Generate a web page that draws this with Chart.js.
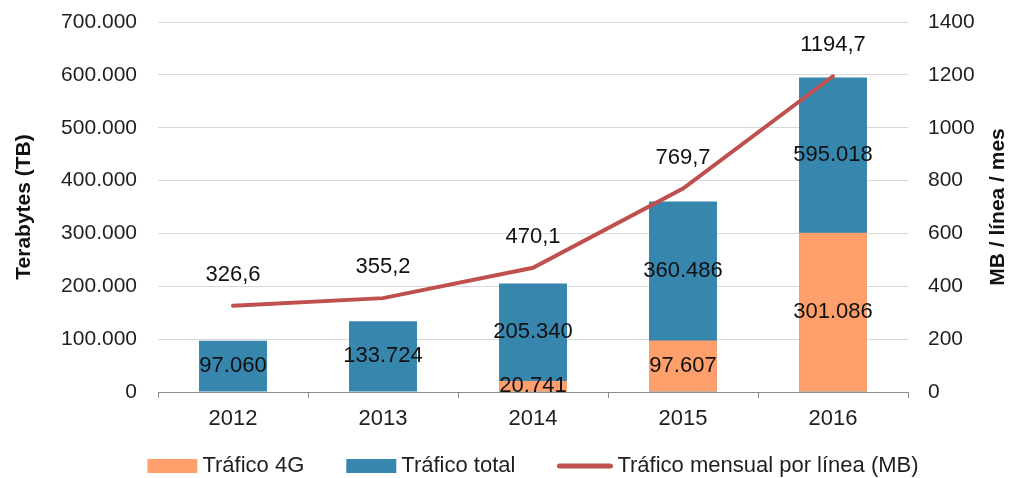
<!DOCTYPE html>
<html lang="es">

<head>
    <meta charset="UTF-8">
    <meta name="viewport" content="width=device-width, initial-scale=1.0">
    <script src="https://cdn.jsdelivr.net/npm/chart.js"></script>
    <title>Tráfico de datos móviles</title>
    <style>
        body { margin: 0; background: #fff; }
        #wrap { width: 1013px; height: 478px; position: relative; }
    </style>
</head>

<body>
    <div id="wrap">
        <canvas id="myChart"></canvas>
    </div>
</body>

<script>
    // datos
    const anios = ['2012', '2013', '2014', '2015', '2016'];
    const trafico4G = [null, null, 20741, 97607, 301086];
    const traficoTotal = [97060, 133724, 205340, 360486, 595018];
    const traficoLinea = [326.6, 355.2, 470.1, 769.7, 1194.7];

    const naranja = '#FF9F6B';
    const azul = '#3786AE';
    const rojo = '#C0504D';
    const texto = '#1f1f1f';
    const fuente = "'Liberation Sans', Arial, sans-serif";

    function miles(v) {
        return String(v).replace(/\B(?=(\d{3})+(?!\d))/g, '.');
    }
    function decimal(v) {
        return v.toFixed(1).replace('.', ',');
    }

    // etiquetas de datos sobre barras y linea
    const etiquetas = {
        id: 'etiquetas',
        afterDatasetsDraw(chart) {
            const ctx = chart.ctx;
            const m4g = chart.getDatasetMeta(0);
            const mTot = chart.getDatasetMeta(1);
            const mLin = chart.getDatasetMeta(2);
            ctx.save();
            ctx.font = '22px ' + fuente;
            ctx.fillStyle = '#111';
            ctx.textAlign = 'center';
            ctx.textBaseline = 'middle';
            mTot.data.forEach((bar, i) => {
                let abajo = bar.base;
                if (trafico4G[i] != null) {
                    abajo = m4g.data[i].y;
                    const b4 = m4g.data[i];
                    ctx.fillText(miles(trafico4G[i]), b4.x, (b4.y + b4.base) / 2);
                }
                ctx.fillText(miles(traficoTotal[i]), bar.x, (bar.y + abajo) / 2);
            });
            mLin.data.forEach((p, i) => {
                ctx.fillText(decimal(traficoLinea[i]), p.x, p.y - 31);
            });
            ctx.restore();
        }
    };

    // titulo del eje derecho (se lee de abajo hacia arriba, como el izquierdo)
    const tituloDerecho = {
        id: 'tituloDerecho',
        afterDraw(chart) {
            const ctx = chart.ctx;
            const s = chart.scales.y2;
            ctx.save();
            ctx.translate(998, (s.top + s.bottom) / 2);
            ctx.rotate(-Math.PI / 2);
            ctx.font = 'bold 21px ' + fuente;
            ctx.fillStyle = '#111';
            ctx.textAlign = 'center';
            ctx.textBaseline = 'middle';
            ctx.fillText('MB / línea / mes', 0, 0);
            ctx.restore();
        }
    };

    // leyenda dibujada abajo, centrada en el area del grafico
    const leyenda = {
        id: 'leyenda',
        afterDraw(chart) {
            const ctx = chart.ctx;
            const ds = chart.data.datasets;
            ctx.save();
            ctx.font = '22px ' + fuente;
            ctx.textBaseline = 'middle';
            const items = ds.map((d) => ({
                text: d.label,
                color: d.type === 'line' ? d.borderColor : d.backgroundColor,
                linea: d.type === 'line',
                ancho: d.type === 'line' ? 55 : 50
            }));
            let total = 0;
            items.forEach((it, i) => {
                it.tw = ctx.measureText(it.text).width;
                total += it.ancho + 5 + it.tw + (i > 0 ? 42 : 0);
            });
            const area = chart.chartArea;
            let x = (area.left + area.right) / 2 - total / 2;
            const y = 466;
            items.forEach((it) => {
                if (it.linea) {
                    ctx.strokeStyle = it.color;
                    ctx.lineWidth = 5;
                    ctx.lineCap = 'round';
                    ctx.beginPath();
                    ctx.moveTo(x + 2, y);
                    ctx.lineTo(x + it.ancho - 2, y);
                    ctx.stroke();
                } else {
                    ctx.fillStyle = it.color;
                    ctx.fillRect(x, y - 7, it.ancho, 14);
                }
                ctx.fillStyle = texto;
                ctx.fillText(it.text, x + it.ancho + 5, y);
                x += it.ancho + 5 + it.tw + 42;
            });
            ctx.restore();
        }
    };

    // ancho fijo del eje y sin el relleno extra arriba/abajo de las etiquetas
    function fijarEje(ancho) {
        return (s) => {
            s.width = ancho;
            s.paddingTop = 0;
            s.paddingBottom = 0;
        };
    }

    const ctx = document.getElementById('myChart').getContext('2d');
    const myChart = new Chart(ctx, {
        data: {
            labels: anios,
            datasets: [{
                type: 'bar',
                label: 'Tráfico 4G',
                data: trafico4G,
                backgroundColor: naranja,
                grouped: false,
                order: 1,
                yAxisID: 'y'
            }, {
                type: 'bar',
                label: 'Tráfico total',
                data: traficoTotal,
                backgroundColor: azul,
                grouped: false,
                order: 2,
                yAxisID: 'y'
            }, {
                type: 'line',
                label: 'Tráfico mensual por línea (MB)',
                data: traficoLinea,
                borderColor: rojo,
                backgroundColor: rojo,
                borderWidth: 4,
                borderCapStyle: 'round',
                pointRadius: 0,
                tension: 0,
                order: 0,
                yAxisID: 'y2'
            }]
        },
        plugins: [etiquetas, tituloDerecho, leyenda],
        options: {
            responsive: true,
            maintainAspectRatio: false,
            animation: false,
            layout: { padding: { top: 22, bottom: 46, left: 0, right: 0 } },
            datasets: {
                bar: { barPercentage: 0.453, categoryPercentage: 1 }
            },
            plugins: {
                legend: { display: false },
                tooltip: { enabled: false }
            },
            scales: {
                x: {
                    afterFit: (s) => { s.height = 40; },
                    grid: {
                        offset: true,
                        drawOnChartArea: false,
                        drawTicks: true,
                        tickLength: 6,
                        color: '#8c8c8c'
                    },
                    border: { display: true, color: '#8c8c8c', width: 1 },
                    ticks: {
                        color: texto,
                        padding: 8,
                        font: { size: 22, family: fuente }
                    }
                },
                y: {
                    position: 'left',
                    min: 0,
                    max: 700000,
                    afterFit: fijarEje(158),
                    grid: { color: '#d9d9d9', drawTicks: false },
                    border: { display: false },
                    ticks: {
                        stepSize: 100000,
                        padding: 21,
                        color: texto,
                        font: { size: 21, family: fuente },
                        callback: (v) => miles(v)
                    },
                    title: {
                        display: true,
                        text: 'Terabytes (TB)',
                        color: '#111',
                        padding: { top: 12, bottom: 0 },
                        font: { size: 21, weight: 'bold', family: fuente }
                    }
                },
                y2: {
                    position: 'right',
                    min: 0,
                    max: 1400,
                    afterFit: fijarEje(105),
                    grid: { drawOnChartArea: false, drawTicks: false },
                    border: { display: false },
                    ticks: {
                        stepSize: 200,
                        padding: 20,
                        color: texto,
                        font: { size: 21, family: fuente },
                        callback: (v) => String(v)
                    }
                }
            }
        }
    });
</script>

</html>
